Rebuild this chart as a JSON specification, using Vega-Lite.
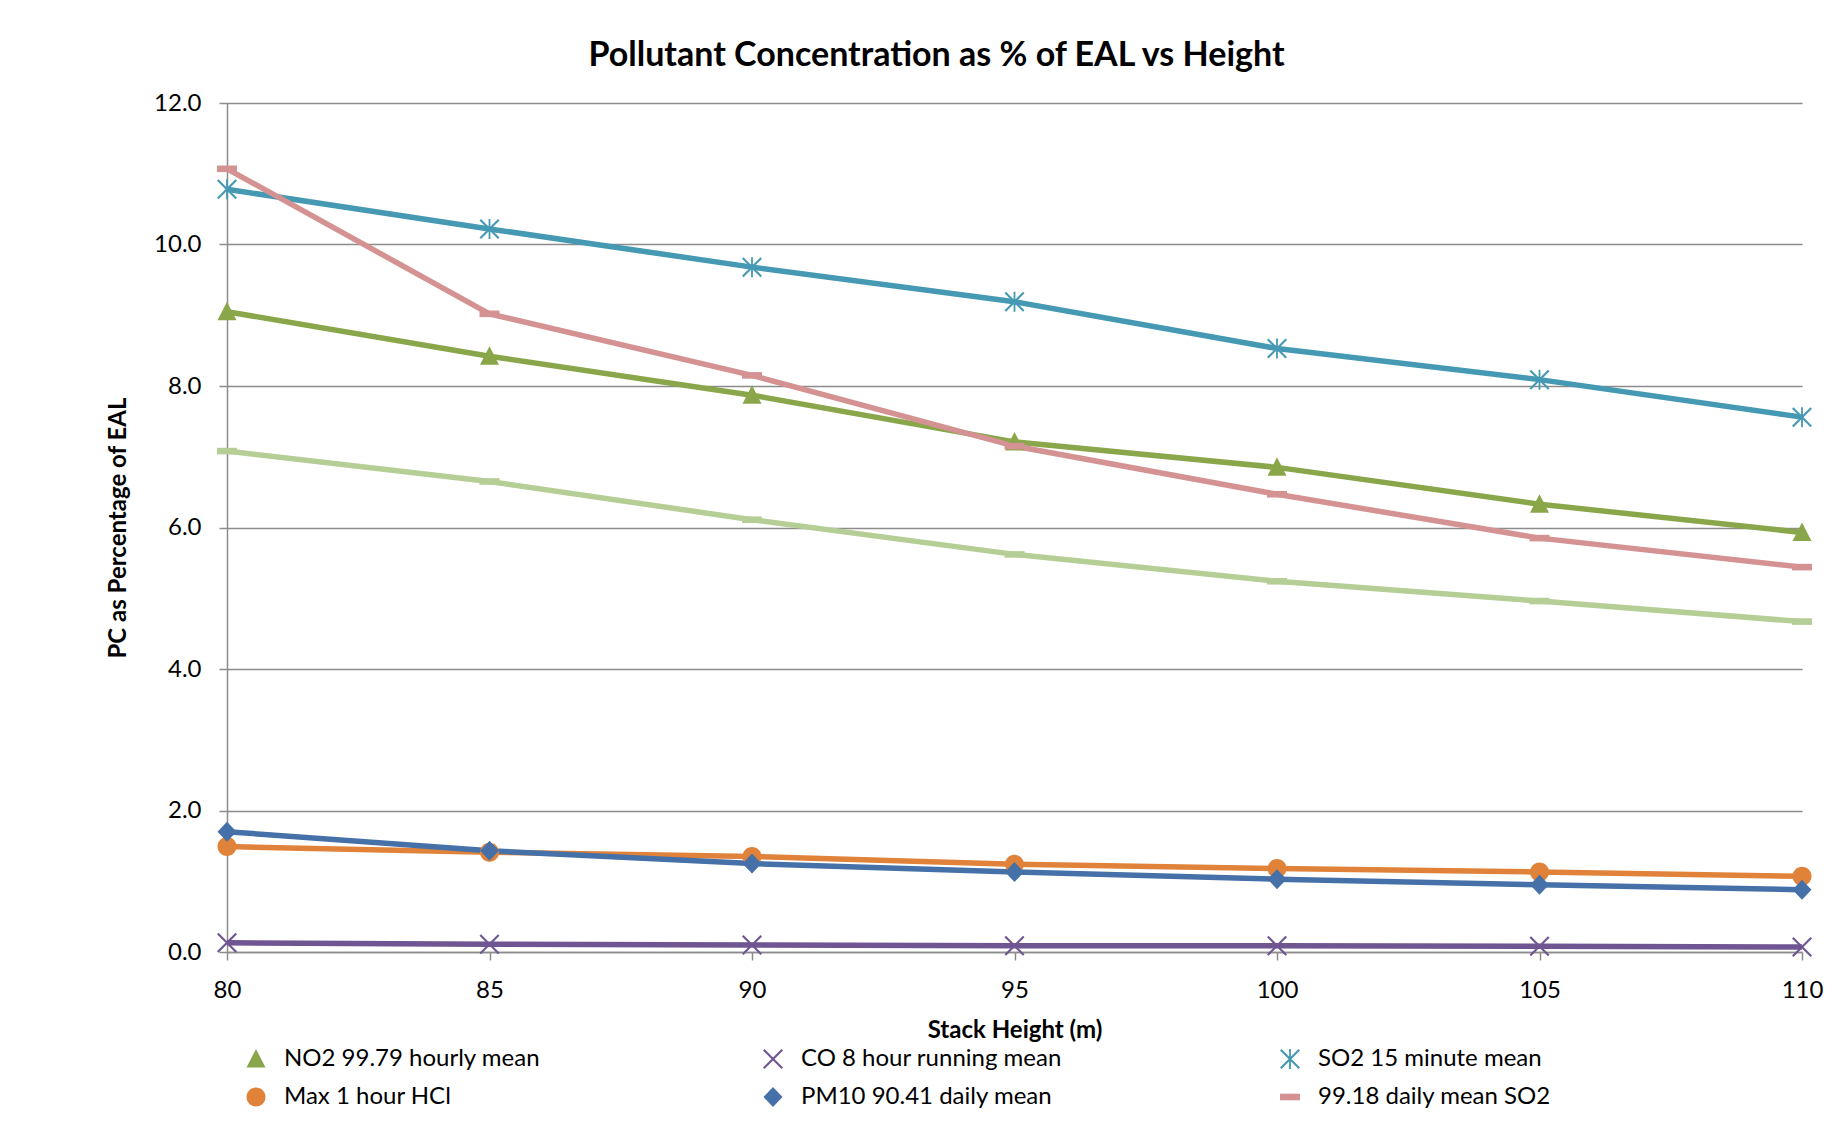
{
  "$schema": "https://vega.github.io/schema/vega-lite/v6.json",
  "width": 1575,
  "height": 849,
  "autosize": {"type": "none"},
  "padding": {"left": 227, "top": 103, "right": 37, "bottom": 170},
  "background": "white",
  "title": {
    "text": "Pollutant Concentration as % of EAL vs Height",
    "font": "Lato",
    "fontSize": 34,
    "fontWeight": "bold",
    "color": "#000000",
    "anchor": "middle",
    "frame": "group",
    "dx": -78,
    "offset": 18
  },
  "config": {
    "font": "Lato",
    "view": {"stroke": null},
    "axis": {
      "labelFont": "Lato",
      "labelFontSize": 24,
      "labelColor": "#000000",
      "labelFlush": false,
      "titleFont": "Lato",
      "titleFontSize": 24,
      "titleFontWeight": "bold",
      "titleColor": "#000000",
      "domainColor": "#8c8c8c",
      "domainWidth": 1.5,
      "tickColor": "#8c8c8c",
      "tickWidth": 1.5,
      "tickSize": 8,
      "labelPadding": 18,
      "gridColor": "#8c8c8c",
      "gridWidth": 1.5
    },
    "legend": {
      "labelFont": "Lato",
      "labelFontSize": 24,
      "labelColor": "#000000",
      "labelLimit": 0
    }
  },
  "data": {
    "values": [
      {"height": 80, "series": "NO2 99.79 hourly mean", "value": 9.05},
      {"height": 85, "series": "NO2 99.79 hourly mean", "value": 8.42},
      {"height": 90, "series": "NO2 99.79 hourly mean", "value": 7.87},
      {"height": 95, "series": "NO2 99.79 hourly mean", "value": 7.21},
      {"height": 100, "series": "NO2 99.79 hourly mean", "value": 6.85},
      {"height": 105, "series": "NO2 99.79 hourly mean", "value": 6.33},
      {"height": 110, "series": "NO2 99.79 hourly mean", "value": 5.93},
      {"height": 80, "series": "CO 8 hour running mean", "value": 0.13},
      {"height": 85, "series": "CO 8 hour running mean", "value": 0.11},
      {"height": 90, "series": "CO 8 hour running mean", "value": 0.1},
      {"height": 95, "series": "CO 8 hour running mean", "value": 0.09},
      {"height": 100, "series": "CO 8 hour running mean", "value": 0.09},
      {"height": 105, "series": "CO 8 hour running mean", "value": 0.08},
      {"height": 110, "series": "CO 8 hour running mean", "value": 0.07},
      {"height": 80, "series": "SO2 15 minute mean", "value": 10.78},
      {"height": 85, "series": "SO2 15 minute mean", "value": 10.22},
      {"height": 90, "series": "SO2 15 minute mean", "value": 9.68},
      {"height": 95, "series": "SO2 15 minute mean", "value": 9.19},
      {"height": 100, "series": "SO2 15 minute mean", "value": 8.53},
      {"height": 105, "series": "SO2 15 minute mean", "value": 8.09},
      {"height": 110, "series": "SO2 15 minute mean", "value": 7.56},
      {"height": 80, "series": "Max 1 hour HCl", "value": 1.49},
      {"height": 85, "series": "Max 1 hour HCl", "value": 1.41},
      {"height": 90, "series": "Max 1 hour HCl", "value": 1.35},
      {"height": 95, "series": "Max 1 hour HCl", "value": 1.24},
      {"height": 100, "series": "Max 1 hour HCl", "value": 1.18},
      {"height": 105, "series": "Max 1 hour HCl", "value": 1.13},
      {"height": 110, "series": "Max 1 hour HCl", "value": 1.07},
      {"height": 80, "series": "PM10 90.41 daily mean", "value": 1.7},
      {"height": 85, "series": "PM10 90.41 daily mean", "value": 1.43},
      {"height": 90, "series": "PM10 90.41 daily mean", "value": 1.25},
      {"height": 95, "series": "PM10 90.41 daily mean", "value": 1.13},
      {"height": 100, "series": "PM10 90.41 daily mean", "value": 1.03},
      {"height": 105, "series": "PM10 90.41 daily mean", "value": 0.95},
      {"height": 110, "series": "PM10 90.41 daily mean", "value": 0.88},
      {"height": 80, "series": "99.18 daily mean SO2", "value": 11.07},
      {"height": 85, "series": "99.18 daily mean SO2", "value": 9.02},
      {"height": 90, "series": "99.18 daily mean SO2", "value": 8.15},
      {"height": 95, "series": "99.18 daily mean SO2", "value": 7.15},
      {"height": 100, "series": "99.18 daily mean SO2", "value": 6.47},
      {"height": 105, "series": "99.18 daily mean SO2", "value": 5.85},
      {"height": 110, "series": "99.18 daily mean SO2", "value": 5.44},
      {"height": 80, "series": "Series 7", "value": 7.08},
      {"height": 85, "series": "Series 7", "value": 6.65},
      {"height": 90, "series": "Series 7", "value": 6.11},
      {"height": 95, "series": "Series 7", "value": 5.62},
      {"height": 100, "series": "Series 7", "value": 5.24},
      {"height": 105, "series": "Series 7", "value": 4.96},
      {"height": 110, "series": "Series 7", "value": 4.67}
    ]
  },
  "encoding": {
    "x": {
      "field": "height",
      "type": "quantitative",
      "title": "Stack Height (m)",
      "scale": {"domain": [80, 110], "nice": false, "zero": false},
      "axis": {"values": [80, 85, 90, 95, 100, 105, 110], "grid": false, "titlePadding": 16}
    },
    "y": {
      "field": "value",
      "type": "quantitative",
      "title": "PC as Percentage of EAL",
      "scale": {"domain": [0, 12], "nice": false},
      "axis": {"values": [0, 2, 4, 6, 8, 10, 12], "format": ".1f", "grid": true, "titlePadding": 23}
    },
    "color": {
      "field": "series",
      "type": "nominal",
      "scale": {
        "domain": ["NO2 99.79 hourly mean", "CO 8 hour running mean", "SO2 15 minute mean", "Max 1 hour HCl", "PM10 90.41 daily mean", "99.18 daily mean SO2", "Series 7"],
        "range": ["#8aa64a", "#6f5591", "#4599b3", "#e0823a", "#4570a8", "#d49292", "#b5ce95"]
      },
      "legend": {
        "title": null,
        "orient": "none",
        "legendX": 17,
        "legendY": 944,
        "direction": "horizontal",
        "columns": 3,
        "gridAlign": "all",
        "columnPadding": 216,
        "rowPadding": 14,
        "padding": 0,
        "labelOffset": 16,
        "labelLimit": 0,
        "symbolSize": 400,
        "symbolStrokeWidth": 0,
        "values": ["NO2 99.79 hourly mean", "CO 8 hour running mean", "SO2 15 minute mean", "Max 1 hour HCl", "PM10 90.41 daily mean", "99.18 daily mean SO2"]
      }
    }
  },
  "layer": [
    {
      "mark": {"type": "line", "strokeWidth": 5.5}
    },
    {
      "mark": {"type": "point", "filled": true, "opacity": 1, "size": 400, "strokeWidth": 0},
      "encoding": {
        "shape": {
          "field": "series",
          "type": "nominal",
          "legend": null,
          "scale": {
            "domain": ["NO2 99.79 hourly mean", "CO 8 hour running mean", "SO2 15 minute mean", "Max 1 hour HCl", "PM10 90.41 daily mean", "99.18 daily mean SO2", "Series 7"],
            "range": [
              "M0,-1L0.95,0.85L-0.95,0.85Z",
              "M-1,-0.85L-0.85,-1L1,0.85L0.85,1ZM0.85,-1L1,-0.85L-0.85,1L-1,0.85Z",
              "M-1,-0.85L-0.85,-1L1,0.85L0.85,1ZM0.85,-1L1,-0.85L-0.85,1L-1,0.85ZM-0.09,-1H0.09V1H-0.09Z",
              "M0.95,0A0.95,0.95 0 1,1 -0.95,0A0.95,0.95 0 1,1 0.95,0Z",
              "M0,-1L0.95,0L0,1L-0.95,0Z",
              "M-1,-0.33H1V0.33H-1Z",
              "M-1,-0.33H1V0.33H-1Z"
            ]
          }
        }
      }
    }
  ]
}
